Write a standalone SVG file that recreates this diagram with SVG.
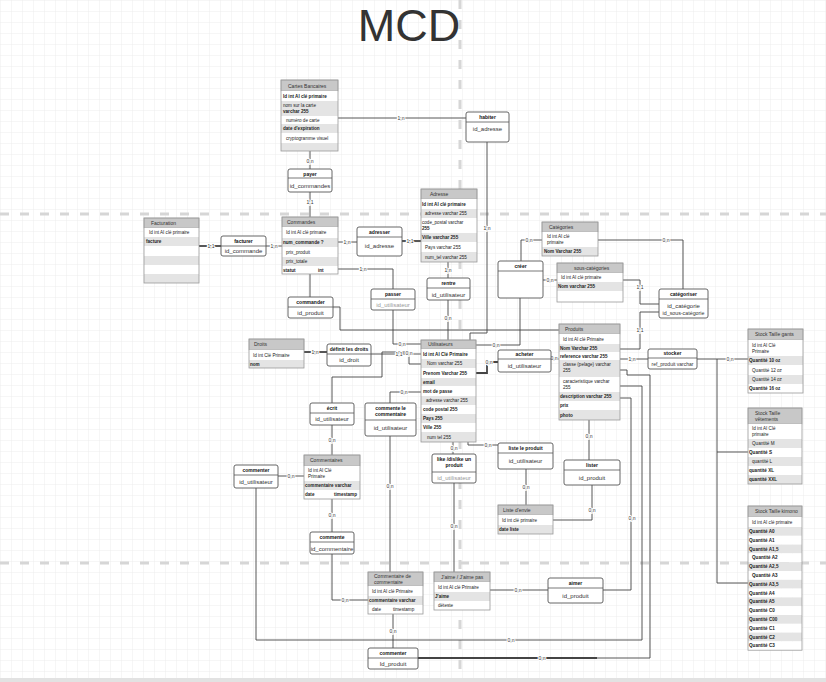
<svg xmlns="http://www.w3.org/2000/svg" width="826" height="682" viewBox="0 0 826 682">
<defs>
<pattern id="grid" width="11" height="11" patternUnits="userSpaceOnUse">
<path d="M11 0H0V11" fill="none" stroke="#e9e9e9" stroke-width="0.8"/>
</pattern>
</defs>
<style>
.hd{fill:#c8c8c8;stroke:#a0a0a0;stroke-width:0.5}
.rw{fill:#ffffff}
.rg{fill:#e4e4e4}
.box{fill:none;stroke:#9a9a9a;stroke-width:0.8}
text{font-family:"Liberation Sans",Arial,sans-serif;font-size:4.6px;fill:#222}
.b{font-weight:bold}
.ht{font-size:5px;fill:#333}
.as{fill:#fff;stroke:#555;stroke-width:0.9}
.sep{stroke:#555;stroke-width:0.8}
.an{font-weight:bold;font-size:5px;text-anchor:middle;fill:#111}
.aa{font-size:6px;text-anchor:middle;fill:#333}
.lt{fill:#999}
.ln{fill:none;stroke:#444;stroke-width:0.9}
.tk{stroke-width:1.8}
.lb{font-size:5px;text-anchor:middle;fill:#333;stroke:#fff;stroke-width:2;paint-order:stroke}
.pb{fill:none;stroke:#d6d6d6;stroke-width:3;stroke-dasharray:9 11}
</style>
<rect width="826" height="682" fill="#fff"/>
<rect width="826" height="682" fill="url(#grid)"/>
<g id="page-breaks">
<line class="pb" x1="0" y1="214" x2="826" y2="214"/>
<line class="pb" x1="0" y1="563" x2="826" y2="563"/>
<line class="pb" x1="460" y1="0" x2="460" y2="682"/>
</g>
<rect x="0" y="678" width="826" height="4" fill="#e2e2e2"/>
<text x="409" y="41" text-anchor="middle" style="font-size:45px;fill:#333">MCD</text>

<g id="connectors">
<polyline class="ln" points="338,118 466,118"/>
<polyline class="ln" points="487,142 487,333 470,333 470,340"/>
<polyline class="ln" points="310,151 310,169"/>
<polyline class="ln" points="310,192 310,217"/>
<polyline class="ln tk" points="199,246 221,246"/>
<polyline class="ln" points="266,246 282,246"/>
<polyline class="ln" points="338,242 357,242"/>
<polyline class="ln tk" points="402,241 421,241"/>
<polyline class="ln" points="338,269 393,269 393,289"/>
<polyline class="ln" points="393,310 393,344 421,344"/>
<polyline class="ln" points="448,262 448,278"/>
<polyline class="ln" points="448,300 448,340"/>
<polyline class="ln" points="310,274 310,297"/>
<polyline class="ln" points="333,307 340,307 340,330 559,330"/>
<polyline class="ln" points="521,261 521,240 542,240"/>
<polyline class="ln" points="543,280 557,280"/>
<polyline class="ln" points="520,298 520,345 476,345"/>
<polyline class="ln" points="598,240 683,240 683,289"/>
<polyline class="ln" points="623,280 640,280 640,304 659,304"/>
<polyline class="ln" points="620,349 640,349 640,312 659,312"/>
<polyline class="ln" points="620,359 648,359"/>
<polyline class="ln" points="697,359 748,359"/>
<polyline class="ln" points="717,359 717,583 748,583"/>
<polyline class="ln" points="717,452 748,452"/>
<polyline class="ln tk" points="304,352 327,352"/>
<polyline class="ln" points="371,354 421,354"/>
<polyline class="ln" points="332,403 332,377 382,377 382,352 409,352 409,364 421,364"/>
<polyline class="ln" points="332,425 332,455"/>
<polyline class="ln" points="390,403 390,392 421,392"/>
<polyline class="ln" points="390,436 390,572"/>
<polyline class="ln" points="453,442 453,454"/>
<polyline class="ln" points="454,483 454,572"/>
<polyline class="ln" points="468,442 468,445 498,445"/>
<polyline class="ln" points="526,469 526,505"/>
<polyline class="ln" points="553,520 592,520 592,485"/>
<polyline class="ln" points="589,420 589,460"/>
<polyline class="ln" points="620,398 631,398 631,590 603,590"/>
<polyline class="ln" points="548,590 490,590"/>
<polyline class="ln" points="620,386 642,386 642,640 256,640 256,488"/>
<polyline class="ln" points="393,614 393,648"/>
<polyline class="ln" points="620,370 627,370 627,375 650,375 650,658 418,658"/>
<polyline class="ln tk" points="418,658 597,658"/>
<polyline class="ln" points="278,476 304,476"/>
<polyline class="ln" points="332,499 332,532"/>
<polyline class="ln" points="332,554 332,600 368,600"/>
<polyline class="ln tk" points="476,373 487,373 487,362 498,362"/>
<polyline class="ln" points="551,359 559,359"/>
<text class="lb" x="401" y="119.7">1,n</text>
<text class="lb" x="487" y="229.7">1,n</text>
<text class="lb" x="310" y="162.7">0,n</text>
<text class="lb" x="310" y="203.7">1,1</text>
<text class="lb" x="211" y="247.7">1,1</text>
<text class="lb" x="274" y="247.7">1,n</text>
<text class="lb" x="347" y="243.7">1,n</text>
<text class="lb" x="410" y="242.7">1,1</text>
<text class="lb" x="363" y="270.7">1,n</text>
<text class="lb" x="402" y="345.7">0,n</text>
<text class="lb" x="448" y="271.7">1,n</text>
<text class="lb" x="448" y="319.7">0,n</text>
<text class="lb" x="529" y="241.7">0,n</text>
<text class="lb" x="550" y="281.7">0,n</text>
<text class="lb" x="496" y="346.7">0,n</text>
<text class="lb" x="666" y="241.7">0,n</text>
<text class="lb" x="640" y="288.7">1,1</text>
<text class="lb" x="640" y="331.7">1,1</text>
<text class="lb" x="632" y="360.7">1,n</text>
<text class="lb" x="730" y="360.7">0,n</text>
<text class="lb" x="315" y="353.7">1,n</text>
<text class="lb" x="399" y="355.7">1,1</text>
<text class="lb" x="409" y="354.7">0,n</text>
<text class="lb" x="332" y="441.7">0,n</text>
<text class="lb" x="404" y="393.7">0,n</text>
<text class="lb" x="390" y="487.7">0,n</text>
<text class="lb" x="454" y="449.7">0,n</text>
<text class="lb" x="454" y="527.7">0,n</text>
<text class="lb" x="488" y="446.7">0,n</text>
<text class="lb" x="526" y="488.7">0,n</text>
<text class="lb" x="592" y="511.7">0,n</text>
<text class="lb" x="589" y="437.7">0,n</text>
<text class="lb" x="632" y="519.7">0,n</text>
<text class="lb" x="518" y="591.7">0,n</text>
<text class="lb" x="511" y="641.7">0,n</text>
<text class="lb" x="393" y="632.7">0,n</text>
<text class="lb" x="542" y="659.7">0,n</text>
<text class="lb" x="291" y="477.7">0,n</text>
<text class="lb" x="332" y="516.7">0,n</text>
<text class="lb" x="345" y="601.7">0,n</text>
<text class="lb" x="489" y="363.7">0,n</text>
<text class="lb" x="554" y="360.2">0,n</text>
</g>

<g id="cartes-bancaires">
<rect class="hd" x="281" y="80" width="57" height="11"/>
<rect class="rw" x="281" y="91" width="57" height="10"/>
<rect class="rg" x="281" y="101" width="57" height="15"/>
<rect class="rw" x="281" y="116" width="57" height="8"/>
<rect class="rg" x="281" y="124" width="57" height="9"/>
<rect class="rw" x="281" y="133" width="57" height="10"/>
<rect class="rg" x="281" y="143" width="57" height="8"/>
<rect class="box" x="281" y="80" width="57" height="71"/>
<text class="ht" x="288" y="87.5">Cartes Bancaires</text>
<text class="b" x="283" y="97.5">Id int AI clé primaire</text>
<text x="283" y="106.5">nom sur la carte</text>
<text class="b" x="283" y="112.5">varchar 255</text>
<text x="286" y="121.5">numéro de carte</text>
<text class="b" x="283" y="130">date d'expiration</text>
<text x="286" y="139.5">cryptogramme visuel</text>
</g>

<g id="facturation">
<rect class="hd" x="144" y="218" width="55" height="10"/>
<rect class="rw" x="144" y="228" width="55" height="9"/>
<rect class="rg" x="144" y="237" width="55" height="9"/>
<rect class="rw" x="144" y="246" width="55" height="10"/>
<rect class="rg" x="144" y="256" width="55" height="9"/>
<rect class="rw" x="144" y="265" width="55" height="9"/>
<rect class="rg" x="144" y="274" width="55" height="9"/>
<rect class="box" x="144" y="218" width="55" height="65"/>
<text class="ht" x="151" y="224.5">Facturation</text>
<text x="149" y="234">Id int AI clé primaire</text>
<text class="b" x="146" y="243">facture</text>
</g>

<g id="commandes">
<rect class="hd" x="282" y="217" width="56" height="10"/>
<rect class="rw" x="282" y="227" width="56" height="11"/>
<rect class="rg" x="282" y="238" width="56" height="9"/>
<rect class="rw" x="282" y="247" width="56" height="10"/>
<rect class="rg" x="282" y="257" width="56" height="9"/>
<rect class="rw" x="282" y="266" width="56" height="8"/>
<rect class="box" x="282" y="217" width="56" height="57"/>
<text class="ht" x="287" y="223.5">Commandes</text>
<text x="286" y="234">Id int AI clé primaire</text>
<text class="b" x="283" y="244">num_commande ?</text>
<text x="286" y="253.5">prix_produit</text>
<text x="286" y="263">prix_totale</text>
<text class="b" x="283" y="271.5">statut</text>
<text class="b" x="318" y="271.5">int</text>
</g>

<g id="adresse">
<rect class="hd" x="421" y="189" width="56" height="10"/>
<rect class="rw" x="421" y="199" width="56" height="10"/>
<rect class="rg" x="421" y="209" width="56" height="9"/>
<rect class="rw" x="421" y="218" width="56" height="15"/>
<rect class="rg" x="421" y="233" width="56" height="9"/>
<rect class="rw" x="421" y="242" width="56" height="10"/>
<rect class="rg" x="421" y="252" width="56" height="10"/>
<rect class="box" x="421" y="189" width="56" height="73"/>
<text class="ht" x="430" y="195.5">Adresse</text>
<text class="b" x="422" y="205.5">Id int AI clé primaire</text>
<text x="425" y="215">adresse varchar 255</text>
<text x="422" y="224">code_postal varchar</text>
<text class="b" x="422" y="230">255</text>
<text class="b" x="422" y="239">Ville varchar 255</text>
<text x="425" y="248.5">Pays varchar 255</text>
<text x="425" y="258.5">num_tel varchar 255</text>
</g>

<g id="categories">
<rect class="hd" x="542" y="222" width="56" height="10"/>
<rect class="rw" x="542" y="232" width="56" height="15"/>
<rect class="rg" x="542" y="247" width="56" height="9"/>
<rect class="box" x="542" y="222" width="56" height="34"/>
<text class="ht" x="549" y="228.5">Catégories</text>
<text x="547" y="238">Id int AI clé</text>
<text x="547" y="244">primaire</text>
<text class="b" x="544" y="253">Nom Varchar 255</text>
</g>

<g id="sous-categories">
<rect class="hd" x="557" y="263" width="66" height="10"/>
<rect class="rw" x="557" y="273" width="66" height="9"/>
<rect class="rg" x="557" y="282" width="66" height="9"/>
<rect class="rw" x="557" y="291" width="66" height="11"/>
<rect class="box" x="557" y="263" width="66" height="39"/>
<text class="ht" x="574" y="269.5">sous-catégories</text>
<text x="561" y="279">Id int AI clé primaire</text>
<text class="b" x="558" y="288">Nom varchar 255</text>
</g>

<g id="utilisateurs">
<rect class="hd" x="421" y="340" width="55" height="9"/>
<rect class="rw" x="421" y="349" width="55" height="10"/>
<rect class="rg" x="421" y="359" width="55" height="9"/>
<rect class="rw" x="421" y="368" width="55" height="10"/>
<rect class="rg" x="421" y="378" width="55" height="8"/>
<rect class="rw" x="421" y="386" width="55" height="10"/>
<rect class="rg" x="421" y="396" width="55" height="9"/>
<rect class="rw" x="421" y="405" width="55" height="9"/>
<rect class="rg" x="421" y="414" width="55" height="9"/>
<rect class="rw" x="421" y="423" width="55" height="9"/>
<rect class="rg" x="421" y="432" width="55" height="10"/>
<rect class="box" x="421" y="340" width="55" height="102"/>
<text class="ht" x="428" y="346.3">Utilisateurs</text>
<text class="b" x="423" y="355.6">Id  int  AI  Clé Primaire</text>
<text x="427" y="365.1">Nom  varchar  255</text>
<text class="b" x="423" y="374.6">Prenom Varchar 255</text>
<text class="b" x="423" y="383.6">email</text>
<text class="b" x="423" y="392.6">mot de passe</text>
<text x="426" y="402.1">adresse varchar 255</text>
<text class="b" x="423" y="411.1">code postal 255</text>
<text class="b" x="423" y="420.1">Pays 255</text>
<text class="b" x="423" y="429.1">Ville 255</text>
<text x="427" y="438.6">num tel 255</text>
</g>

<g id="produits">
<rect class="hd" x="559" y="324" width="61" height="10"/>
<rect class="rw" x="559" y="334" width="61" height="10"/>
<rect class="rg" x="559" y="344" width="61" height="8"/>
<rect class="rw" x="559" y="352" width="61" height="8"/>
<rect class="rg" x="559" y="360" width="61" height="17"/>
<rect class="rw" x="559" y="377" width="61" height="15"/>
<rect class="rg" x="559" y="392" width="61" height="9"/>
<rect class="rw" x="559" y="401" width="61" height="9"/>
<rect class="rg" x="559" y="410" width="61" height="10"/>
<rect class="box" x="559" y="324" width="61" height="96"/>
<text class="ht" x="565" y="330.5">Produits</text>
<text x="563" y="340.6">Id  int  AI clé Primaire</text>
<text class="b" x="560" y="349.6">Nom Varchar 255</text>
<text class="b" x="560" y="357.6">reference varchar 255</text>
<text x="563" y="366">classe (pelage) varchar</text>
<text x="563" y="372">255</text>
<text x="563" y="383">caracteristique varchar</text>
<text x="563" y="389">255</text>
<text class="b" x="560" y="398">description varchar 255</text>
<text class="b" x="560" y="407">prix</text>
<text class="b" x="560" y="416.5">photo</text>
</g>

<g id="droits">
<rect class="hd" x="249" y="339" width="55" height="11"/>
<rect class="rw" x="249" y="350" width="55" height="10"/>
<rect class="rg" x="249" y="360" width="55" height="8"/>
<rect class="box" x="249" y="339" width="55" height="29"/>
<text class="ht" x="254" y="346">Droits</text>
<text x="253" y="356.5">Id int  Clé Primaire</text>
<text class="b" x="250" y="365.5">nom</text>
</g>

<g id="commentaires">
<rect class="hd" x="304" y="455" width="56" height="11"/>
<rect class="rw" x="304" y="466" width="56" height="15"/>
<rect class="rg" x="304" y="481" width="56" height="9"/>
<rect class="rw" x="304" y="490" width="56" height="9"/>
<rect class="box" x="304" y="455" width="56" height="44"/>
<text class="ht" x="310" y="462">Commentaires</text>
<text x="308" y="472">Id int AI Clé</text>
<text x="308" y="478">Primaire</text>
<text class="b" x="305" y="487">commentaire varchar</text>
<text class="b" x="305" y="496">date</text>
<text class="b" x="334" y="496">timestamp</text>
</g>

<g id="commentaire-de-commentaire">
<rect class="hd" x="368" y="572" width="55" height="14"/>
<rect class="rw" x="368" y="586" width="55" height="10"/>
<rect class="rg" x="368" y="596" width="55" height="9"/>
<rect class="rw" x="368" y="605" width="55" height="9"/>
<rect class="box" x="368" y="572" width="55" height="42"/>
<text class="ht" x="374" y="578">Commentaire de</text>
<text class="ht" x="374" y="584">commentaire</text>
<text x="372" y="592.5">Id int AI clé Primaire</text>
<text class="b" x="369" y="602">commentaire   varchar</text>
<text x="372" y="611">date</text>
<text x="393" y="611">timestamp</text>
</g>

<g id="jaime">
<rect class="hd" x="434" y="572" width="56" height="10"/>
<rect class="rw" x="434" y="582" width="56" height="10"/>
<rect class="rg" x="434" y="592" width="56" height="9"/>
<rect class="rw" x="434" y="601" width="56" height="9"/>
<rect class="box" x="434" y="572" width="56" height="38"/>
<text class="ht" x="441" y="578.5">J'aime / J'aime pas</text>
<text x="438" y="588.5">Id int AI clé Primaire</text>
<text class="b" x="435" y="598">J'aime</text>
<text x="438" y="607">déteste</text>
</g>

<g id="liste-envie">
<rect class="hd" x="498" y="505" width="55" height="10"/>
<rect class="rw" x="498" y="515" width="55" height="10"/>
<rect class="rg" x="498" y="525" width="55" height="9"/>
<rect class="box" x="498" y="505" width="55" height="29"/>
<text class="ht" x="503" y="511.5">Liste d'envie</text>
<text x="502" y="521.5">Id int clé primaire</text>
<text class="b" x="499" y="531">date liste</text>
</g>

<g id="stock-gants">
<rect class="hd" x="748" y="329" width="55" height="11"/>
<rect class="rw" x="748" y="340" width="55" height="16"/>
<rect class="rg" x="748" y="356" width="55" height="9"/>
<rect class="rw" x="748" y="365" width="55" height="10"/>
<rect class="rg" x="748" y="375" width="55" height="9"/>
<rect class="rw" x="748" y="384" width="55" height="9"/>
<rect class="box" x="748" y="329" width="55" height="64"/>
<text class="ht" x="755" y="336">Stock Taille  gants</text>
<text x="752" y="346.5">Id int AI Clé</text>
<text x="752" y="352.5">Primaire</text>
<text class="b" x="749" y="362">Quantité 10 oz</text>
<text x="752" y="371.5">Quantité 12 oz</text>
<text x="752" y="381">Quantité 14 oz</text>
<text class="b" x="749" y="390">Quantité 16 oz</text>
</g>

<g id="stock-vetements">
<rect class="hd" x="748" y="408" width="54" height="16"/>
<rect class="rw" x="748" y="424" width="54" height="15"/>
<rect class="rg" x="748" y="439" width="54" height="9"/>
<rect class="rw" x="748" y="448" width="54" height="9"/>
<rect class="rg" x="748" y="457" width="54" height="9"/>
<rect class="rw" x="748" y="466" width="54" height="9"/>
<rect class="rg" x="748" y="475" width="54" height="9"/>
<rect class="box" x="748" y="408" width="54" height="76"/>
<text class="ht" x="755" y="414.5">Stock Taille</text>
<text class="ht" x="755" y="420.5">vêtements</text>
<text x="752" y="430">Id int AI Clé</text>
<text x="752" y="436">primaire</text>
<text x="752" y="445">Quantité M</text>
<text class="b" x="749" y="454">Quantité S</text>
<text x="752" y="463">quantité L</text>
<text class="b" x="749" y="472">quantité XL</text>
<text class="b" x="749" y="481">quantité XXL</text>
</g>

<g id="stock-kimono">
<rect class="hd" x="748" y="506" width="54" height="11"/>
<rect class="rw" x="748" y="517" width="54" height="10"/>
<rect class="rg" x="748" y="527" width="54" height="8.8"/>
<rect class="rw" x="748" y="535.8" width="54" height="8.8"/>
<rect class="rg" x="748" y="544.6" width="54" height="8.8"/>
<rect class="rw" x="748" y="553.4" width="54" height="8.8"/>
<rect class="rg" x="748" y="562.2" width="54" height="8.8"/>
<rect class="rw" x="748" y="571" width="54" height="8.8"/>
<rect class="rg" x="748" y="579.8" width="54" height="8.8"/>
<rect class="rw" x="748" y="588.6" width="54" height="8.8"/>
<rect class="rg" x="748" y="597.4" width="54" height="8.8"/>
<rect class="rw" x="748" y="606.2" width="54" height="8.8"/>
<rect class="rg" x="748" y="615" width="54" height="8.8"/>
<rect class="rw" x="748" y="623.8" width="54" height="8.8"/>
<rect class="rg" x="748" y="632.6" width="54" height="8.8"/>
<rect class="rw" x="748" y="641.4" width="54" height="8.8"/>
<rect class="box" x="748" y="506" width="54" height="144.2"/>
<text class="ht" x="755" y="513">Stock Taille kimono</text>
<text x="752" y="523.5">Id int AI clé primaire</text>
<text class="b" x="749" y="533">Quantité A0</text>
<text class="b" x="749" y="541.8">Quantité A1</text>
<text class="b" x="749" y="550.6">Quantité A1,5</text>
<text class="b" x="752" y="559.4">Quantité A2</text>
<text class="b" x="749" y="568.2">Quantité A2,5</text>
<text class="b" x="752" y="577">Quantité A3</text>
<text class="b" x="749" y="585.8">Quantité A3,5</text>
<text class="b" x="749" y="594.6">Quantité A4</text>
<text class="b" x="749" y="603.4">Quantité A5</text>
<text class="b" x="749" y="612.2">Quantité C0</text>
<text class="b" x="749" y="621">Quantité C00</text>
<text class="b" x="749" y="629.8">Quantité C1</text>
<text class="b" x="749" y="638.6">Quantité C2</text>
<text class="b" x="749" y="647.4">Quantité C3</text>
</g>

<g id="payer">
<rect class="as" x="288" y="169" width="44" height="23" rx="2"/>
<line class="sep" x1="288" y1="178" x2="332" y2="178"/>
<text class="an" x="310" y="175.5">payer</text>
<text class="aa" x="310" y="187.5">id_commandes</text>
</g>
<g id="facturer">
<rect class="as" x="221" y="236" width="45" height="20" rx="2"/>
<line class="sep" x1="221" y1="246" x2="266" y2="246"/>
<text class="an" x="243.5" y="242.5">facturer</text>
<text class="aa" x="243.5" y="253">id_commande</text>
</g>
<g id="adresser">
<rect class="as" x="357" y="227" width="45" height="29" rx="2"/>
<line class="sep" x1="357" y1="237" x2="402" y2="237"/>
<text class="an" x="379.5" y="233.5">adresser</text>
<text class="aa" x="379.5" y="248">id_adresse</text>
</g>
<g id="habiter">
<rect class="as" x="466" y="112" width="43" height="30" rx="2"/>
<line class="sep" x1="466" y1="122" x2="509" y2="122"/>
<text class="an" x="487.5" y="118.5">habiter</text>
<text class="aa" x="487.5" y="131">id_adresse</text>
</g>
<g id="rentre">
<rect class="as" x="427" y="278" width="43" height="22" rx="2"/>
<line class="sep" x1="427" y1="288" x2="470" y2="288"/>
<text class="an" x="448.5" y="284.5">rentre</text>
<text class="aa" x="448.5" y="296.5">id_utilisateur</text>
</g>
<g id="passer">
<rect class="as" x="371" y="289" width="44" height="21" rx="2"/>
<line class="sep" x1="371" y1="299" x2="415" y2="299"/>
<text class="an" x="393" y="295.5">passer</text>
<text class="aa lt" x="393" y="307">id_utilisateur</text>
</g>
<g id="commander-produit">
<rect class="as" x="288" y="297" width="45" height="21" rx="2"/>
<line class="sep" x1="288" y1="307" x2="333" y2="307"/>
<text class="an" x="310.5" y="303.5">commander</text>
<text class="aa" x="310.5" y="314.5">id_produit</text>
</g>
<g id="creer">
<rect class="as" x="498" y="261" width="45" height="37" rx="2"/>
<line class="sep" x1="498" y1="271" x2="543" y2="271"/>
<text class="an" x="520.5" y="267.5">créer</text>
</g>
<g id="categoriser">
<rect class="as" x="659" y="289" width="49" height="29" rx="2"/>
<line class="sep" x1="659" y1="299" x2="708" y2="299"/>
<text class="an" x="683.5" y="295.5">catégoriser</text>
<text class="aa" x="683.5" y="307.5">id_catégorie</text>
<text class="aa" x="683.5" y="314.5" style="font-size:5.3px">id_sous-catégorie</text>
</g>
<g id="stocker">
<rect class="as" x="648" y="349" width="49" height="20" rx="2"/>
<line class="sep" x1="648" y1="358" x2="697" y2="358"/>
<text class="an" x="672.5" y="355">stocker</text>
<text class="aa" x="672.5" y="365.5" style="font-size:5px">ref_produit varchar</text>
</g>
<g id="definit-les-droits">
<rect class="as" x="327" y="344" width="44" height="22" rx="2"/>
<line class="sep" x1="327" y1="354" x2="371" y2="354"/>
<text class="an" x="349" y="350.5">définit les droits</text>
<text class="aa" x="349" y="362">id_droit</text>
</g>
<g id="acheter">
<rect class="as" x="498" y="350" width="53" height="22" rx="2"/>
<line class="sep" x1="498" y1="359" x2="551" y2="359"/>
<text class="an" x="524.5" y="356">acheter</text>
<text class="aa" x="524.5" y="368">id_utilisateur</text>
</g>
<g id="ecrit">
<rect class="as" x="310" y="403" width="44" height="22" rx="2"/>
<line class="sep" x1="310" y1="413" x2="354" y2="413"/>
<text class="an" x="332" y="409.5">écrit</text>
<text class="aa" x="332" y="421">id_utilisateur</text>
</g>
<g id="commente-le-commentaire">
<rect class="as" x="365" y="403" width="51" height="33" rx="2"/>
<line class="sep" x1="365" y1="420" x2="416" y2="420"/>
<text class="an" x="390.5" y="409.5">commente le</text>
<text class="an" x="390.5" y="415.5">commentaire</text>
<text class="aa" x="390.5" y="430">id_utilisateur</text>
</g>
<g id="like-dislike">
<rect class="as" x="432" y="454" width="44" height="29" rx="2"/>
<line class="sep" x1="432" y1="472" x2="476" y2="472"/>
<text class="an" x="454" y="460.5">like /dislike un</text>
<text class="an" x="454" y="466.5">produit</text>
<text class="aa lt" x="454" y="479.5">id_utilisateur</text>
</g>
<g id="liste-le-produit">
<rect class="as" x="498" y="443" width="55" height="26" rx="2"/>
<line class="sep" x1="498" y1="453" x2="553" y2="453"/>
<text class="an" x="525.5" y="449.5">liste le produit</text>
<text class="aa" x="525.5" y="463">id_utilisateur</text>
</g>
<g id="lister">
<rect class="as" x="564" y="460" width="56" height="25" rx="2"/>
<line class="sep" x1="564" y1="470" x2="620" y2="470"/>
<text class="an" x="592" y="466.5">lister</text>
<text class="aa" x="592" y="480">id_produit</text>
</g>
<g id="commenter-utilisateur">
<rect class="as" x="234" y="465" width="44" height="23" rx="2"/>
<line class="sep" x1="234" y1="475" x2="278" y2="475"/>
<text class="an" x="256" y="471.5">commenter</text>
<text class="aa" x="256" y="484">id_utilisateur</text>
</g>
<g id="commente">
<rect class="as" x="310" y="532" width="44" height="22" rx="2"/>
<line class="sep" x1="310" y1="542" x2="354" y2="542"/>
<text class="an" x="332" y="538.5">commente</text>
<text class="aa" x="332" y="550.5">id_commentaire</text>
</g>
<g id="aimer">
<rect class="as" x="548" y="578" width="55" height="25" rx="2"/>
<line class="sep" x1="548" y1="588" x2="603" y2="588"/>
<text class="an" x="575.5" y="584.5">aimer</text>
<text class="aa" x="575.5" y="598">id_produit</text>
</g>
<g id="commenter-produit">
<rect class="as" x="368" y="648" width="50" height="21" rx="2"/>
<line class="sep" x1="368" y1="658" x2="418" y2="658"/>
<text class="an" x="393" y="654.5">commenter</text>
<text class="aa" x="393" y="666">Id_produit</text>
</g>
</svg>
